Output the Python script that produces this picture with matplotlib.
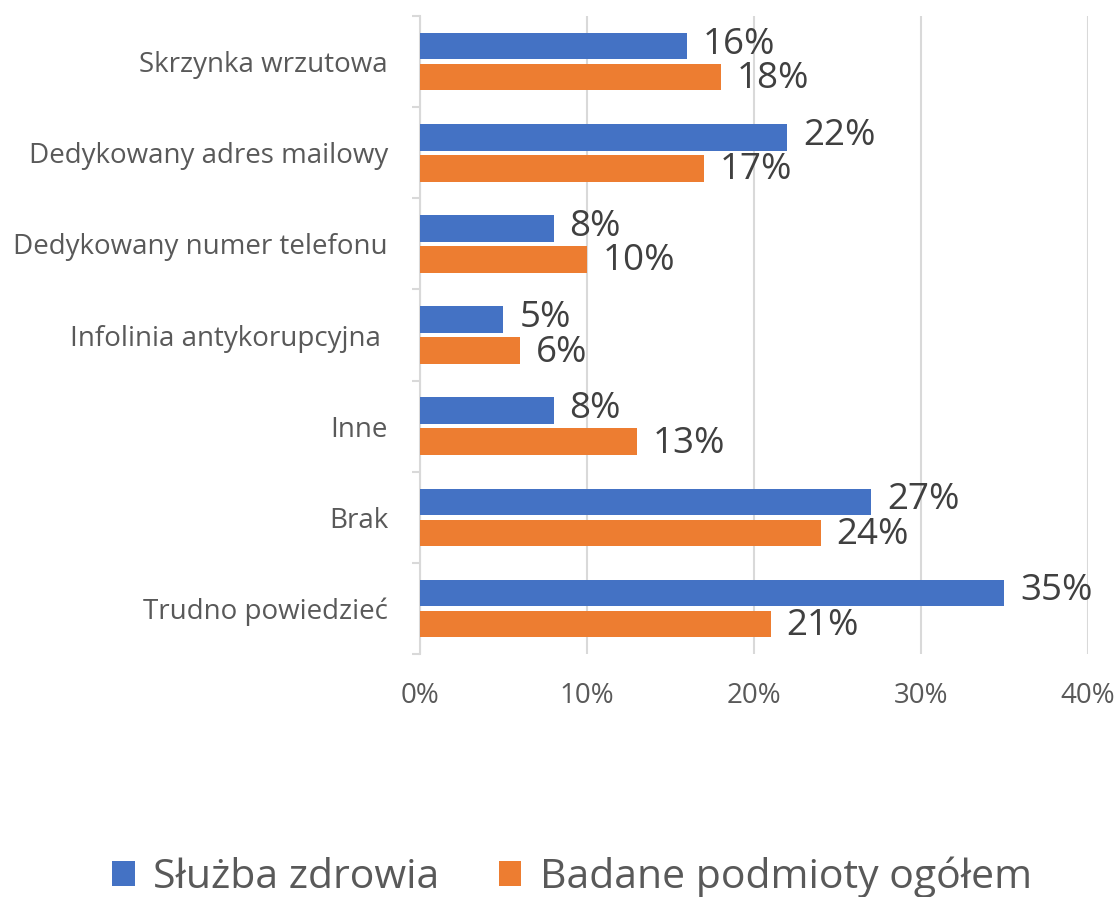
import matplotlib
matplotlib.use("Agg")
import matplotlib.pyplot as plt
import numpy as np
from matplotlib.ticker import FixedLocator

categories = ["Skrzynka wrzutowa", "Dedykowany adres mailowy", "Dedykowany numer telefonu",
              "Infolinia antykorupcyjna ", "Inne", "Brak", "Trudno powiedzieć"]
sluzba = [16, 22, 8, 5, 8, 27, 35]
ogolem = [18, 17, 10, 6, 13, 24, 21]
series_names = ["Służba zdrowia", "Badane podmioty ogółem"]
xticks = [0, 10, 20, 30, 40]

BLUE = "#4472C4"
ORANGE = "#ED7D31"
FONT = ["Open Sans", "DejaVu Sans"]
plt.rcParams["font.family"] = FONT

fig = plt.figure(figsize=(11.17, 8.97), dpi=100)
ax = fig.add_axes([0.376, 0.271, 0.598, 0.711])

n = len(categories)
y = np.arange(n)
h = 0.29
off = 0.17
b1 = ax.barh(y - off, sluzba, height=h, color=BLUE, zorder=3, label=series_names[0])
b2 = ax.barh(y + off, ogolem, height=h, color=ORANGE, zorder=3, label=series_names[1])

for bars, vals, dy in ((b1, sluzba, 1), (b2, ogolem, -1.5)):
    for rect, v in zip(bars, vals):
        ax.annotate(f"{v}%", (rect.get_width(), rect.get_y() + rect.get_height() / 2),
                    xytext=(11.5, dy), textcoords="offset points",
                    ha="left", va="center", fontsize=26.5, color="#404040")

ax.set_ylim(n - 0.5, -0.5)
ax.set_xlim(0, 40)
ax.set_xticks(xticks)
ax.set_xticklabels([f"{t}%" for t in xticks], fontsize=20, color="#595959")
ax.tick_params(axis="x", length=0, pad=20)
ax.xaxis.grid(True, color="#D9D9D9", linewidth=1.5, zorder=0)

ax.set_yticks(y)
ax.set_yticklabels(categories, fontsize=20, color="#595959")
ax.tick_params(axis="y", which="major", length=0, pad=23)
ax.yaxis.set_minor_locator(FixedLocator(np.arange(-0.5, n, 1.0)))
ax.tick_params(axis="y", which="minor", length=6, width=1.5, color="#D9D9D9")

for s in ("top", "right", "bottom"):
    ax.spines[s].set_visible(False)
ax.spines["left"].set_color("#D9D9D9")
ax.spines["left"].set_linewidth(1.5)

fig.legend(handles=[b1, b2], labels=series_names, loc="center", bbox_to_anchor=(0.512, 0.022),
           ncol=2, frameon=False, fontsize=29.5, handlelength=0.55, handleheight=0.55,
           columnspacing=1.45, handletextpad=0.45, labelcolor="#595959")

fig.savefig("out.png", dpi=100)
